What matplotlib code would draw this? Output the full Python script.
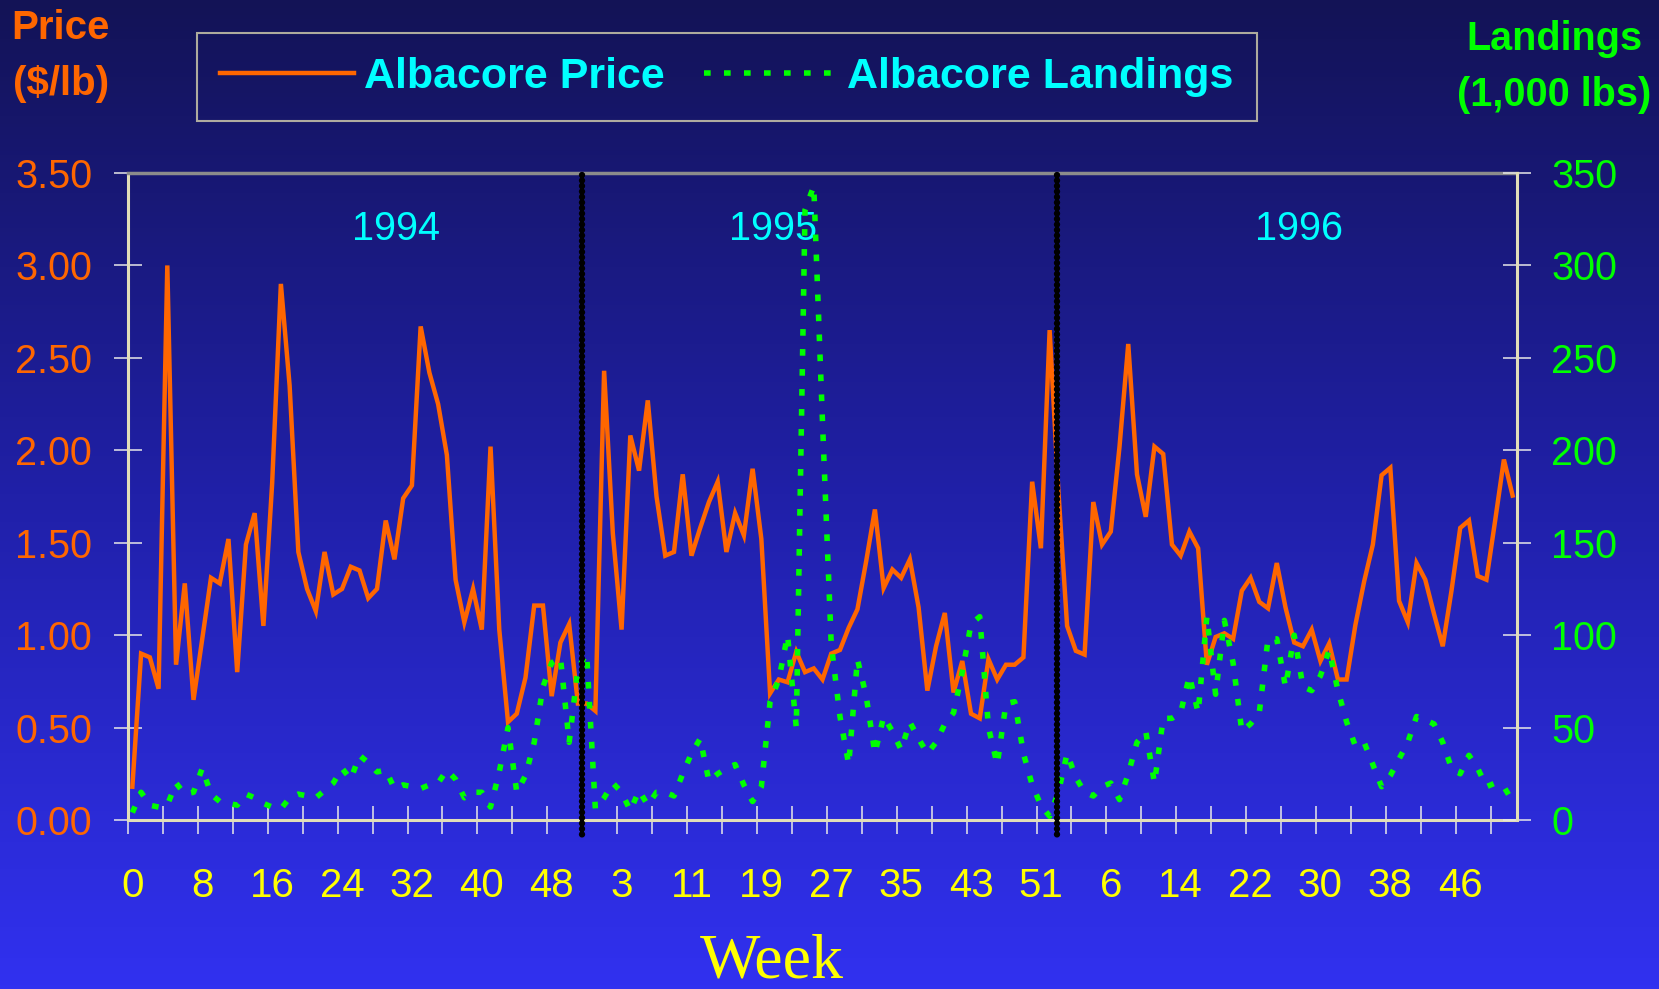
import numpy as np
import matplotlib
matplotlib.use("Agg")
import matplotlib.pyplot as plt
from matplotlib import font_manager
from matplotlib.colors import LinearSegmentedColormap

# ---- data (one value per week, weeks 0..52 each year) ----
price_1994 = [0.18, 0.90, 0.88, 0.71, 3.00, 0.84, 1.28, 0.65, 0.98, 1.31, 1.28, 1.52, 0.80,
              1.49, 1.66, 1.05, 1.82, 2.90, 2.35, 1.45, 1.25, 1.13, 1.45, 1.22, 1.25, 1.37,
              1.35, 1.20, 1.25, 1.62, 1.41, 1.74, 1.81, 2.67, 2.42, 2.25, 1.975, 1.30, 1.07,
              1.25, 1.03, 2.02, 1.03, 0.53, 0.575, 0.77, 1.16, 1.16, 0.67, 0.96, 1.06, 0.63, 0.63]
price_1995 = [0.59, 2.43, 1.55, 1.03, 2.08, 1.89, 2.27, 1.75, 1.43, 1.45, 1.87, 1.43, 1.58,
              1.72, 1.83, 1.45, 1.66, 1.54, 1.90, 1.52, 0.685, 0.76, 0.745, 0.91, 0.80, 0.82,
              0.76, 0.90, 0.92, 1.04, 1.14, 1.40, 1.68, 1.255, 1.355, 1.31, 1.41, 1.15, 0.70,
              0.94, 1.12, 0.69, 0.86, 0.575, 0.55, 0.87, 0.76, 0.84, 0.84, 0.88, 1.83, 1.47, 2.65]
price_1996 = [1.78, 1.05, 0.915, 0.895, 1.72, 1.49, 1.56, 2.02, 2.575, 1.87, 1.64, 2.02, 1.98,
              1.49, 1.43, 1.56, 1.47, 0.84, 0.99, 1.01, 0.98, 1.24, 1.31, 1.18, 1.145, 1.39,
              1.15, 0.96, 0.94, 1.03, 0.86, 0.955, 0.76, 0.76, 1.055, 1.29, 1.49, 1.865, 1.905,
              1.185, 1.07, 1.39, 1.30, 1.115, 0.94, 1.24, 1.58, 1.62, 1.32, 1.30, 1.62, 1.95, 1.755]

landings_1994 = [4, 15, 8, 7, 8, 20, 14, 15, 28, 14, 10, 9, 8, 14, 12, 9, 7, 6, 12, 14, 13, 12,
                 16, 20, 28, 22, 35, 31, 26, 27, 17, 19, 18, 17, 19, 20, 27, 22, 12, 15, 15, 7,
                 26, 50, 15, 24, 42, 72, 85, 88, 42, 82, 90]
landings_1995 = [6, 12, 20, 15, 5, 16, 8, 15, 15, 13, 25, 36, 44, 21, 25, 28, 30, 19, 10, 18,
                 64, 76, 100, 50, 330, 343, 215, 95, 56, 30, 87, 67, 36, 56, 48, 38, 53, 44, 36,
                 42, 52, 58, 80, 106, 110, 50, 30, 63, 64, 36, 19, 8, 2]
landings_1996 = [15, 36, 23, 15, 13, 18, 20, 11, 25, 42, 48, 20, 55, 55, 58, 78, 58, 110, 68,
                 108, 85, 48, 52, 58, 98, 98, 72, 100, 72, 70, 78, 92, 70, 53, 40, 42, 30, 18,
                 24, 33, 42, 56, 54, 52, 42, 28, 25, 35, 28, 18, 20, 18, 10]

years = ["1994", "1995", "1996"]
week_labels = ["0", "8", "16", "24", "32", "40", "48", "3", "11", "19", "27", "35", "43",
               "51", "6", "14", "22", "30", "38", "46"]
year_breaks = [51.5, 105.9]   # where the dotted year dividers were drawn

price = price_1994 + price_1995 + price_1996
landings = landings_1994 + landings_1995 + landings_1996
x = np.arange(len(price))

ORANGE = "#FF6600"
GREEN = "#00FF00"
CYAN = "#00FFFF"
YELLOW = "#FFFF00"

names = {f.name for f in font_manager.fontManager.ttflist}
NARROW = "Liberation Sans Narrow" if "Liberation Sans Narrow" in names else "Liberation Sans"
SANS = "Liberation Sans"

W, H = 1659, 989
fig = plt.figure(figsize=(W / 100, H / 100), dpi=100)

# background gradient
bg = fig.add_axes([0, 0, 1, 1], zorder=-10)
grad = np.linspace(0, 1, 256).reshape(-1, 1)
cmap = LinearSegmentedColormap.from_list("bg", ["#131356", "#2020A8", "#3131F0"])
bg.imshow(grad, aspect="auto", cmap=cmap, extent=[0, 1, 0, 1], origin="upper")
bg.axis("off")

L, R, T, B = 128, 1517, 173, 820
ax = fig.add_axes([L / W, 1 - B / H, (R - L) / W, (B - T) / H])
ax.patch.set_alpha(0)
ax2 = ax.twinx()
ax2.patch.set_visible(False)

ax.plot(x, price, color=ORANGE, lw=3.2, solid_joinstyle="miter", zorder=3)
l1, = ax2.plot([], [], color=ORANGE, lw=3.2)
l2, = ax2.plot(x, landings, color=GREEN, lw=4.0, linestyle=(0, (1.2, 2.4)), zorder=3)

for xb in year_breaks:
    ax2.plot([xb, xb], [349, -9], color="black", lw=4.6, linestyle=(0, (0.01, 0.85)),
             dash_capstyle="round", clip_on=False, zorder=5)

ax.set_xlim(-0.5, len(price) - 0.5)
ax.set_ylim(0, 3.5)
ax2.set_ylim(0, 350)

# tick marks between categories, labels on every 8th category
ax.set_xticks(np.arange(-0.5, len(price) - 1, 4))
ax.set_xticklabels([])
ax.set_xticks(np.arange(0, len(price), 8), minor=True)
ax.set_xticklabels(week_labels, minor=True)
ax.tick_params(axis="x", which="major", direction="inout", length=20, width=1.1,
               color="#E8E8E8")
ax.tick_params(axis="x", which="minor", length=0, pad=34, labelsize=29,
               labelcolor=YELLOW)
for t in ax.get_xticklabels(minor=True):
    t.set_family(NARROW)

ax.set_yticks(np.arange(0, 3.51, 0.5))
ax.set_yticklabels([f"{v:.2f}" for v in np.arange(0, 3.51, 0.5)])
ax.tick_params(axis="y", direction="inout", length=19.5, width=1.1, color="#E8E8E8",
               labelcolor=ORANGE, labelsize=28.5, pad=16)
ax2.set_yticks(np.arange(0, 351, 50))
ax2.tick_params(axis="y", direction="inout", length=19.5, width=1.1, color="#E8E8E8",
                labelcolor=GREEN, labelsize=28.5, pad=15)
for t in ax.get_yticklabels() + ax2.get_yticklabels():
    t.set_family(SANS)

ax.spines["top"].set_color("#8C8C8C")
ax.spines["top"].set_linewidth(2.5)
for s in ("left", "bottom"):
    ax.spines[s].set_color("#E2DEB8")
    ax.spines[s].set_linewidth(2.2)
ax.spines["right"].set_visible(False)
for s in ("left", "top", "bottom"):
    ax2.spines[s].set_visible(False)
ax2.spines["right"].set_color("#E2DEB8")
ax2.spines["right"].set_linewidth(2.2)

for name, xf in zip(years, [0.193, 0.4644, 0.843]):
    ax.text(xf, 0.913, name, transform=ax.transAxes, ha="center", va="center",
            color=CYAN, fontsize=28.5, family=SANS)

# axis titles
fig.text(60.5 / W, 1 - 39 / H, "Price", ha="center", va="baseline", color=ORANGE,
         fontsize=29, fontweight="bold", family=SANS)
fig.text(61 / W, 1 - 95 / H, "($/lb)", ha="center", va="baseline", color=ORANGE,
         fontsize=29, fontweight="bold", family=SANS)
fig.text(1554 / W, 1 - 50 / H, "Landings", ha="center", va="baseline", color=GREEN,
         fontsize=28.5, fontweight="bold", family=SANS)
fig.text(1554 / W, 1 - 106 / H, "(1,000 lbs)", ha="center", va="baseline", color=GREEN,
         fontsize=28.5, fontweight="bold", family=SANS)
fig.text(772 / W, 1 - 978 / H, "Week", ha="center", va="baseline", color=YELLOW,
         fontsize=46, family="Liberation Serif")

leg = fig.legend([l1, l2], ["Albacore Price", "Albacore Landings"], loc="center",
                 bbox_to_anchor=(727 / W, 1 - 77 / H), ncol=2, fancybox=False,
                 handlelength=3.1, handletextpad=0.24, columnspacing=0.9, borderpad=0.55,
                 prop={"family": SANS, "weight": "bold", "size": 31}, labelcolor=CYAN)
leg.get_frame().set_facecolor("none")
leg.get_frame().set_edgecolor("#D6D2AE")
leg.get_frame().set_linewidth(1.5)

fig.savefig("out.png", dpi=100)
